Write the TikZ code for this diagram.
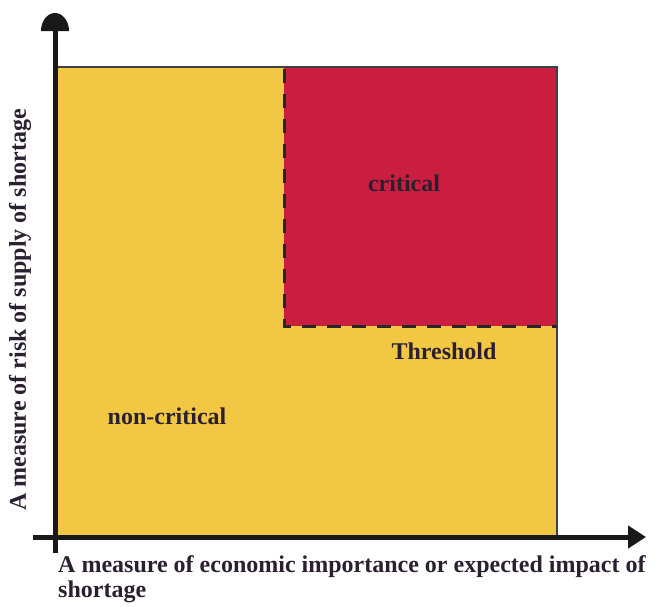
\documentclass[tikz,border=0pt]{standalone}
\usepackage{fontspec}
\setmainfont{Liberation Serif}
\usetikzlibrary{arrows.meta}
\definecolor{crityellow}{HTML}{F2C744}
\definecolor{critred}{HTML}{C91E40}
\definecolor{txtdark}{HTML}{2A2030}
\tikzset{
  lbl/.style={font=\fontsize{24}{28}\selectfont\bfseries, text=txtdark, inner sep=0pt},
  axisline/.style={line width=5pt, draw=black!90},
  dashline/.style={line width=3pt, draw=black!85, dash pattern=on 14pt off 11pt}
}
\begin{document}
\begin{tikzpicture}[x=1pt,y=-1pt]
\useasboundingbox (0,0) rectangle (663,606);
% regions
\fill[crityellow] (57,67) rectangle (557,535);
\fill[critred] (284,67) rectangle (557,326);
\draw[line width=1.3pt, draw=black!75] (57,535) -- (57,67) -- (557,67) -- (557,535);
\draw[dashline] (284,69) -- (284,326) -- (557,326);
% axes
\coordinate (ybot) at (55,553);
\coordinate (ybase) at (55,31);
\coordinate (xleft) at (33,537);
\coordinate (xright) at (646,537);
\draw[axisline] (ybot) -- (ybase);
\fill[black!90] ([xshift=-14pt]ybase) arc[start angle=180, end angle=0, x radius=14pt, y radius=18pt] -- cycle;
\draw[axisline, -{Triangle[width=22pt,length=18pt]}] (xleft) -- (xright);
% labels
\node[lbl] (crit) at (404,183) {critical};
\node[lbl] (thr) at (444,351) {Threshold};
\node[lbl] (noncrit) at (167,416) {non-critical};
\node[lbl, rotate=90] (ylab) at (20,310) {A measure of risk of supply of shortage};
\node[lbl, anchor=west] (xlab1) at (58,567) {A measure of economic importance or expected impact of};
\node[lbl, anchor=west] (xlab2) at (58,592) {shortage};
\end{tikzpicture}
\end{document}
